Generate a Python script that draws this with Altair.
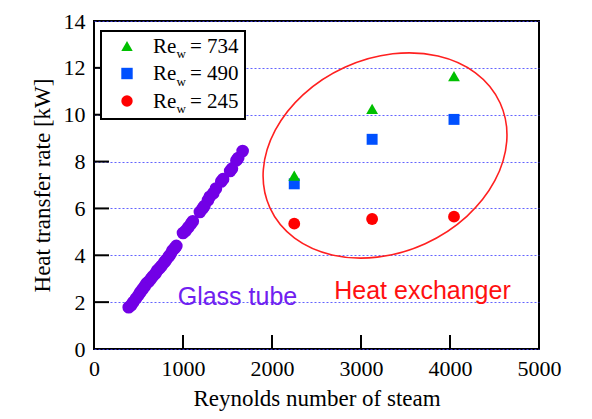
import altair as alt
import pandas as pd

# ---------------- data ----------------
glass_re = [390, 420, 440, 470, 500, 520, 545, 570, 590, 615, 640, 660, 690, 710,
            735, 760, 790, 810, 840, 860, 880, 905, 925, 1000, 1030, 1060, 1090,
            1110, 1190, 1220, 1240, 1280, 1300, 1340, 1370, 1430, 1450, 1530,
            1550, 1600, 1620, 1670]
glass_q = [1.78, 1.88, 2.00, 2.15, 2.30, 2.42, 2.55, 2.68, 2.80, 2.88, 3.00, 3.10,
           3.22, 3.35, 3.45, 3.55, 3.70, 3.80, 3.95, 4.05, 4.20, 4.30, 4.40, 4.95,
           5.05, 5.20, 5.35, 5.45, 5.85, 6.00, 6.10, 6.35, 6.50, 6.65, 6.85, 7.15,
           7.25, 7.60, 7.70, 8.05, 8.15, 8.45]

hx_re = [2250, 3125, 4045]
q_734 = [7.40, 10.25, 11.65]
q_490 = [7.05, 8.95, 9.80]
q_245 = [5.35, 5.55, 5.65]

legend_labels = ["= 734", "= 490", "= 245"]
legend_colors = ["#00C000", "#0050FF", "#FF0000"]
legend_shapes = ["triangle-up", "square", "circle"]

x_ticks = [1000, 2000, 3000, 4000]
y_ticks = [2, 4, 6, 8, 10, 12]

# ellipse annotation (center in data units)
ell_center = pd.DataFrame({"x": [3270], "y": [8.26]})

W, H = 445, 328
SERIF = "Liberation Serif"
SANS = "Liberation Sans"

xs = alt.Scale(domain=[0, 5000], nice=False)
ys = alt.Scale(domain=[0, 14], nice=False)

xax = alt.Axis(values=[0, 1000, 2000, 3000, 4000, 5000], format="d", grid=False, ticks=False,
               domain=False, labelFont=SERIF, labelFontSize=22, labelColor="black",
               labelPadding=9, title="Reynolds number of steam", titleFont=SERIF,
               titleFontSize=23, titleFontWeight="normal", titleColor="black",
               titlePadding=8, labelFlush=False)
yax = alt.Axis(values=[0, 2, 4, 6, 8, 10, 12, 14], format="d", grid=True, gridColor="#3c3cff",
               gridDash=[2, 2], gridOpacity=0.8, gridWidth=1, ticks=False,
               domain=False, labelFont=SERIF, labelFontSize=22, labelColor="black",
               labelPadding=9, title="Heat transfer rate [kW]", titleFont=SERIF,
               titleFontSize=23, titleFontWeight="normal", titleColor="black",
               titlePadding=9, labelFlush=False)

glass_df = pd.DataFrame({"re": glass_re, "q": glass_q})

base = alt.Chart(glass_df).mark_circle(color="#7200E6", size=160, opacity=1).encode(
    x=alt.X("re:Q", scale=xs, axis=xax),
    y=alt.Y("q:Q", scale=ys, axis=yax),
)

def series(vals, color, shape, size):
    df = pd.DataFrame({"re": hx_re, "q": vals})
    return alt.Chart(df).mark_point(filled=True, color=color, shape=shape,
                                    size=size, opacity=1).encode(
        x=alt.X("re:Q", scale=xs), y=alt.Y("q:Q", scale=ys))

s490 = series(q_490, "#0050FF", "square", 120)
s734 = series(q_734, "#00C000", "triangle-up", 140)
s245 = series(q_245, "#FF0000", "circle", 140)

# inward ticks
yt = alt.Chart(pd.DataFrame({"v": y_ticks})).mark_rule(color="black", strokeWidth=2).encode(
    y=alt.Y("v:Q", scale=ys), x=alt.value(0), x2=alt.value(15))
xt = alt.Chart(pd.DataFrame({"v": x_ticks})).mark_rule(color="black", strokeWidth=2).encode(
    x=alt.X("v:Q", scale=xs), y=alt.value(H), y2=alt.value(H - 14))

# ellipse
ell_path = ("M 1 0 C 1 0.423 0.552 0.766 0 0.766 C -0.552 0.766 -1 0.423 -1 0 "
            "C -1 -0.423 -0.552 -0.766 0 -0.766 C 0.552 -0.766 1 -0.423 1 0 Z")
ellipse = alt.Chart(ell_center).mark_point(shape=ell_path, filled=False, size=64000,
                                           angle=335.5, stroke="#FF2020",
                                           strokeWidth=1.6, opacity=1).encode(
    x=alt.X("x:Q", scale=xs), y=alt.Y("y:Q", scale=ys))

# annotation texts
glass_lbl = alt.Chart(pd.DataFrame({"x": [1612], "y": [1.86], "t": ["Glass tube"]})).mark_text(
    font=SANS, fontSize=25, color="#7020F0", align="center", baseline="alphabetic").encode(
    x=alt.X("x:Q", scale=xs), y=alt.Y("y:Q", scale=ys), text="t:N")
hx_lbl = alt.Chart(pd.DataFrame({"x": [3691], "y": [2.14], "t": ["Heat exchanger"]})).mark_text(
    font=SANS, fontSize=25, color="#FF1010", align="center", baseline="alphabetic").encode(
    x=alt.X("x:Q", scale=xs), y=alt.Y("y:Q", scale=ys), text="t:N")

# custom legend
one = pd.DataFrame({"a": [0]})
layers = [alt.Chart(one).mark_rect(fill="white", stroke="black", strokeWidth=2).encode(
    x=alt.value(7), x2=alt.value(151), y=alt.value(10), y2=alt.value(98))]
row_marker_y = [25, 52.5, 80]
row_base_y = [31.7, 59, 86.7]
for i in range(3):
    layers.append(alt.Chart(one).mark_point(filled=True, opacity=1, color=legend_colors[i],
                                            shape=legend_shapes[i], size=130).encode(
        x=alt.value(33), y=alt.value(row_marker_y[i])))
    layers.append(alt.Chart(pd.DataFrame({"t": ["Re"]})).mark_text(
        font=SERIF, fontSize=21, color="black", align="left", baseline="alphabetic").encode(
        x=alt.value(59), y=alt.value(row_base_y[i]), text="t:N"))
    layers.append(alt.Chart(pd.DataFrame({"t": ["w"]})).mark_text(
        font=SERIF, fontSize=13, color="black", align="left", baseline="alphabetic").encode(
        x=alt.value(82.5), y=alt.value(row_base_y[i] + 5.6), text="t:N"))
    layers.append(alt.Chart(pd.DataFrame({"t": [legend_labels[i]]})).mark_text(
        font=SERIF, fontSize=21, color="black", align="left", baseline="alphabetic").encode(
        x=alt.value(96), y=alt.value(row_base_y[i]), text="t:N"))

chart = alt.layer(base, s490, s734, s245, ellipse, glass_lbl, hx_lbl, yt, xt, *layers).properties(
    width=W, height=H,
    autosize=alt.AutoSizeParams(type="none"),
    padding={"left": 86, "top": 13, "right": 30, "bottom": 62},
    background="white",
).configure_view(stroke="black", strokeWidth=2)

chart.save("out.html", embed_options={"renderer": "svg", "actions": False})
